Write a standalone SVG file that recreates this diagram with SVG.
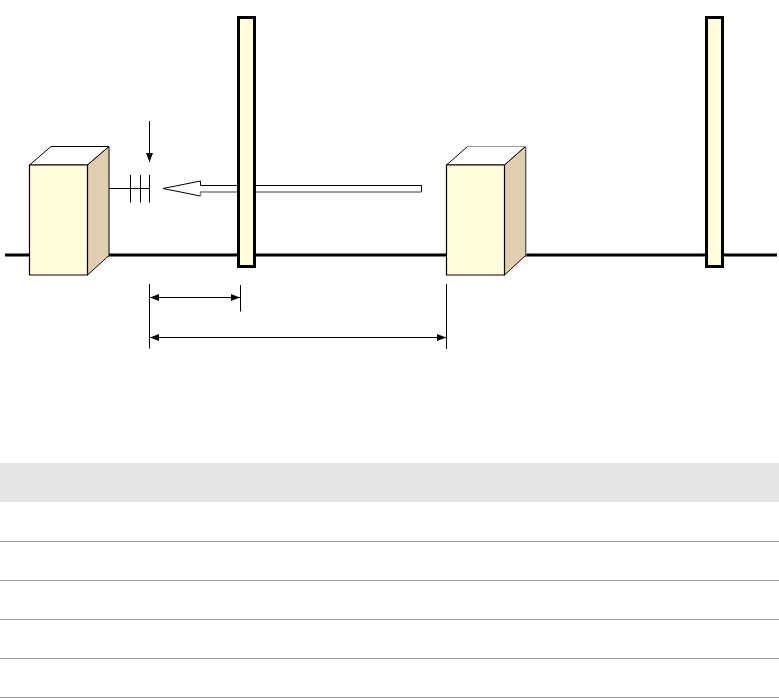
<svg xmlns="http://www.w3.org/2000/svg" width="779" height="698" viewBox="0 0 779 698">
<style>
.front{fill:#fffcdc;stroke:#000;stroke-width:1.2}
.top{fill:#fff;stroke:#000;stroke-width:1}
.side{fill:#e0ceb0;stroke:#000;stroke-width:1}
.edge{fill:none;stroke:#999;stroke-width:1.2}
.pillar{fill:#fffcdc;stroke:#000;stroke-width:3}
.thin{fill:none;stroke:#000;stroke-width:1}
.rule{stroke:#999;stroke-width:1}
</style>
<defs>
<marker id="ah" viewBox="0 0 9 7" refX="9" refY="3.500" markerWidth="9" markerHeight="7" markerUnits="userSpaceOnUse" orient="auto-start-reverse"><path d="M0 0L9 3.500L0 7z" fill="#000"/></marker>
</defs>
<rect width="779" height="698" fill="#fff"/>
<g id="connectors">
<path d="M5 255H777" fill="none" stroke="#000" stroke-width="3"/>
<path class="thin" d="M109 188.500H149.500M130.500 175V202.500M140.500 175V202.500M149.500 175V202.500"/>
<path class="thin" d="M149.500 121V162" marker-end="url(#ah)"/>
<path class="thin" d="M149.500 284V348.500M240.500 285V311.500M446.500 284V349"/>
<path class="thin" d="M150 297.500H240" marker-start="url(#ah)" marker-end="url(#ah)"/>
<path class="thin" d="M150 337.500H446" marker-start="url(#ah)" marker-end="url(#ah)"/>
</g>
<g id="node-box-left">
<path class="top" d="M29.500 165L51 146.500H109L87.500 165z"/>
<path class="side" d="M87.500 165L109 146.500V255.500L87.500 275z"/>
<path class="front" d="M29.500 165H87.500V275H29.500z"/>
</g>
<g id="node-box-right">
<path class="top" d="M446.500 165L467.500 146.500H525.500L504.500 165z"/>
<path class="side" d="M504.500 165L525.500 146.500V255.500L504.500 275z"/>
<path class="edge" d="M467.500 146.500H526V255.500"/>
<path class="front" d="M446.500 165H504.500V275H446.500z"/>
</g>
<g id="hollow-arrow">
<path d="M421.500 185.500H200.500V181L163 188.500L200.500 196V192H421.500z" fill="#fff" stroke="none"/>
<path d="M421.500 192V185.500H200.500V181L163 188.500L200.500 196" fill="none" stroke="#000" stroke-width="1"/>
<path d="M200.500 196V192H421.500" fill="none" stroke="#808080" stroke-width="1.500"/>
</g>
<g id="node-pillar-1"><rect class="pillar" x="238.500" y="17.500" width="16" height="249"/></g>
<g id="node-pillar-2"><rect class="pillar" x="706.500" y="17.500" width="16" height="249"/></g>
<g id="table">
<rect x="0" y="463" width="779" height="39" fill="#e6e6e6"/>
<path class="rule" d="M0 541.500H779M0 580.500H779M0 619.500H779M0 658.500H779M0 697.500H779"/>
</g>
</svg>
